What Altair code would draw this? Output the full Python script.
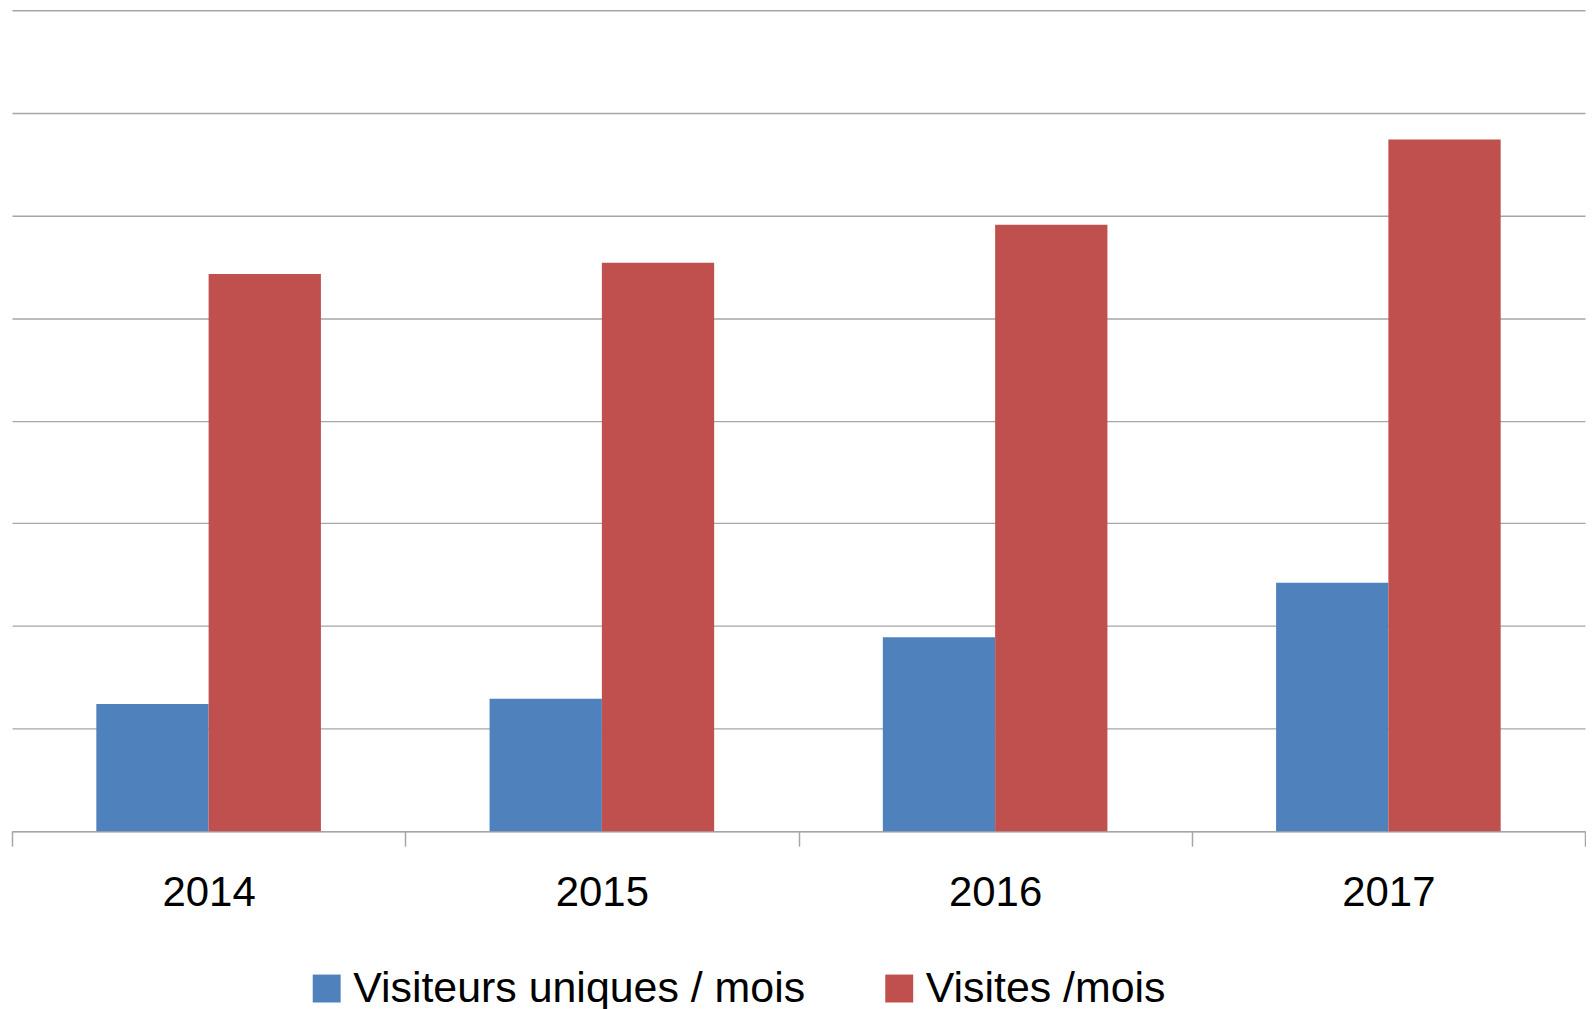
import altair as alt
import pandas as pd

years = ["2014", "2015", "2016", "2017"]
series = ["Visiteurs uniques / mois", "Visites /mois"]
visiteurs = [1.24, 1.29, 1.89, 2.42]
visites = [5.43, 5.54, 5.91, 6.74]
colors = ["#4F81BD", "#C0504D"]

rows = []
for i, y in enumerate(years):
    rows.append({"year": y, "series": series[0], "value": visiteurs[i]})
    rows.append({"year": y, "series": series[1], "value": visites[i]})
df = pd.DataFrame(rows)

FONT = "Liberation Sans"

chart = alt.Chart(df).mark_bar().encode(
    x=alt.X(
        "year:N", sort=years,
        scale=alt.Scale(paddingInner=0, paddingOuter=0),
        axis=alt.Axis(
            title=None, labelAngle=0, labelFontSize=42, labelFont=FONT,
            labelColor="#000000", tickBand="extent", tickSize=15,
            tickColor="#A6A6A6", tickWidth=1.5, domainColor="#A6A6A6",
            domainWidth=1.5, labelPadding=27, grid=False,
        ),
    ),
    xOffset=alt.XOffset("series:N", sort=series,
                        scale=alt.Scale(paddingInner=0, paddingOuter=0.751)),
    y=alt.Y(
        "value:Q",
        scale=alt.Scale(domain=[0, 8], nice=False),
        axis=alt.Axis(
            title=None, labels=False, ticks=False, domain=False,
            values=[0, 1, 2, 3, 4, 5, 6, 7, 8], gridColor="#A6A6A6",
            gridWidth=1.3, gridOpacity=1,
        ),
    ),
    color=alt.Color(
        "series:N", sort=series,
        scale=alt.Scale(domain=series, range=colors),
        legend=alt.Legend(
            title=None, orient="none", legendX=294, legendY=959,
            direction="horizontal", symbolType="square", symbolSize=784,
            symbolStrokeWidth=0, labelFontSize=43, labelFont=FONT,
            labelColor="#000000", labelOffset=5, columnPadding=72,
            padding=0, labelLimit=1000,
        ),
    ),
).properties(
    width=1577, height=823,
    padding={"left": 3, "top": 1, "right": 0, "bottom": 0},
).configure_view(stroke=None)

chart.save("out.html", embed_options={"renderer": "svg", "actions": False})
